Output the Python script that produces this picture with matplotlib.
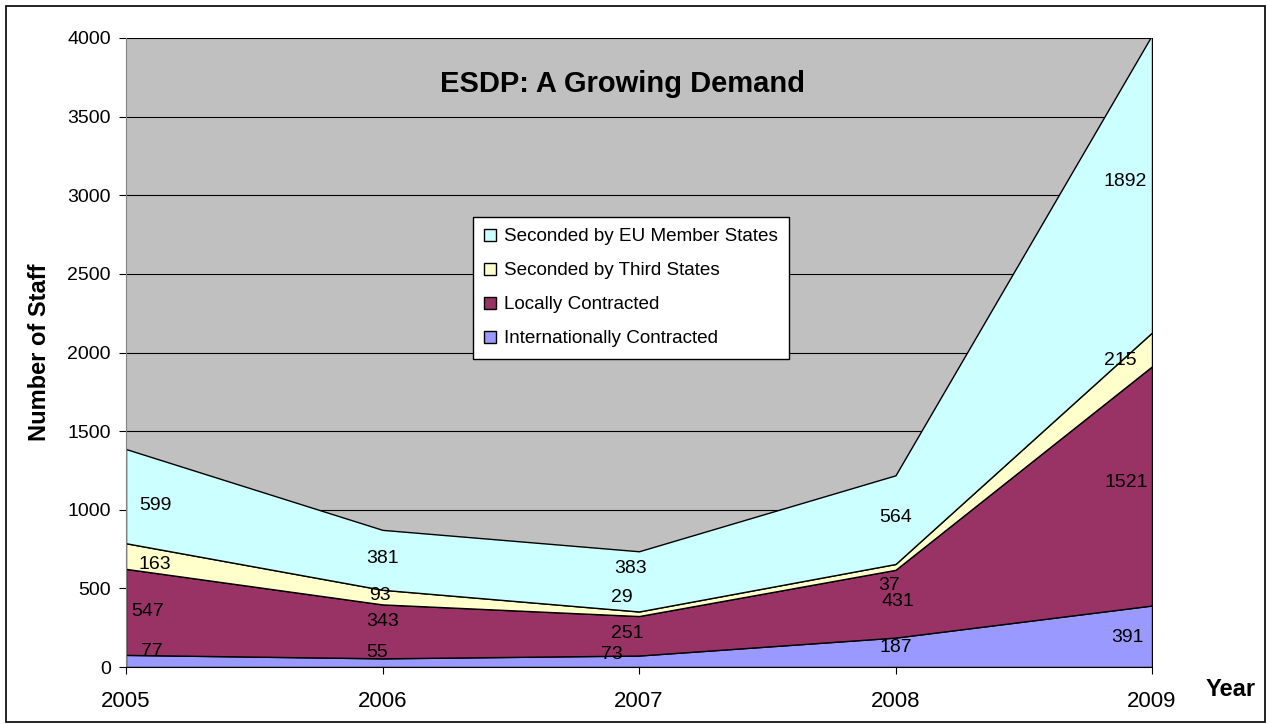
import matplotlib
matplotlib.use("Agg")
import matplotlib.pyplot as plt
from matplotlib.patches import Patch, Rectangle
import numpy as np

plt.rcParams["font.family"] = ["Liberation Sans", "DejaVu Sans"]

years = [2005, 2006, 2007, 2008, 2009]
intl = [77, 55, 73, 187, 391]
local = [547, 343, 251, 431, 1521]
third = [163, 93, 29, 37, 215]
eu = [599, 381, 383, 564, 1892]

series = [intl, local, third, eu]
names = ["Internationally Contracted", "Locally Contracted",
         "Seconded by Third States", "Seconded by EU Member States"]
colors = ["#9999FF", "#993366", "#FFFFCC", "#CCFFFF"]

# label nudges in pixels (dx, dy), per series then per year
nudge = [
    [(26, 9), (-5, 10), (-27, 7), (0, 5), (-25, -1)],
    [(22, 0), (0, 10), (-12, 2), (2, 2), (-26, 3)],
    [(29, -8), (-3, 2), (-17, 16), (-6, -19), (-32, -11)],
    [(29, -9), (0, 1), (-8, 13), (0, 2), (-27, 2)],
]

fig = plt.figure(figsize=(12.67, 7.24), dpi=100)
ax = fig.add_axes([126/1267, 1-667/724, (1152-126)/1267, (667-38)/724])
ax.set_facecolor("#C0C0C0")

ax.stackplot(years, *series, colors=colors, edgecolor="black", linewidth=1.0)
ax.set_xlim(2005, 2009)
ax.set_ylim(0, 4000)
ax.set_yticks(range(0, 4001, 500))
ax.set_xticks(years)
ax.yaxis.grid(True, color="black", linewidth=0.8)
ax.set_axisbelow(True)
for s in ["top", "right"]:
    ax.spines[s].set_visible(False)
ax.spines["left"].set_color("#808080")
ax.spines["bottom"].set_color("black")
ax.tick_params(axis="y", direction="out", length=5, labelsize=14, pad=6)
ax.tick_params(axis="x", direction="out", length=5, labelsize=16, pad=12)

px = 72 / 100
base = np.zeros(len(years))
for vals, nd in zip(series, nudge):
    vals = np.array(vals)
    for i, y in enumerate(years):
        mid = base[i] + vals[i] / 2
        dx, dy = nd[i]
        ax.annotate(str(vals[i]), (y, mid), xytext=(dx * px, dy * px),
                    textcoords="offset points", ha="center", va="center",
                    fontsize=14, annotation_clip=False)
    base += vals

fig.text(622/1267, 1-84/724, "ESDP: A Growing Demand", fontsize=21,
         fontweight="bold", ha="center", va="center")
fig.text(40/1267, 1-352/724, "Number of Staff", fontsize=17,
         fontweight="bold", rotation=90, ha="center", va="center")
fig.text(1231/1267, 1-690/724, "Year", fontsize=17, fontweight="bold",
         ha="center", va="center")

handles = [Patch(facecolor=c, edgecolor="black", linewidth=1) for c in colors]
leg = ax.legend(handles[::-1], names[::-1], loc="upper left",
                bbox_to_anchor=(473/1267, 1-217/724),
                bbox_transform=fig.transFigure, fontsize=13.6, frameon=True,
                fancybox=False, edgecolor="black", framealpha=1,
                handlelength=0.6, handleheight=0.6, handletextpad=0.45,
                labelspacing=0.9, borderpad=0.6, borderaxespad=0)
leg.get_frame().set_linewidth(1)

fig.patches.append(Rectangle((6/1267, 1-722/724), (1265-6)/1267, (722-6)/724,
                             transform=fig.transFigure, fill=False,
                             edgecolor="black", linewidth=1.2))

fig.savefig("out.png", dpi=100)
